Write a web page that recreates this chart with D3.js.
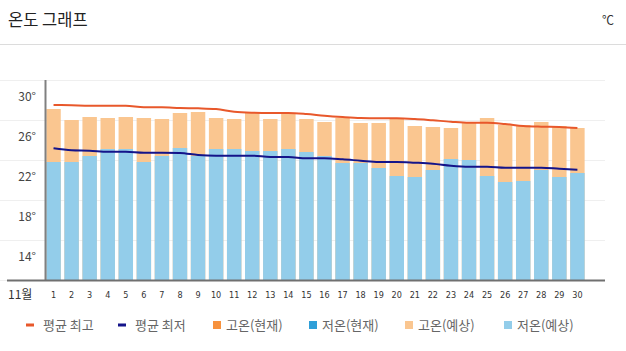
<!DOCTYPE html>
<html><head><meta charset="utf-8">
<script src="https://cdn.jsdelivr.net/npm/d3@7/dist/d3.min.js"></script>
<style>
body{margin:0;background:#fff;}
svg{display:block;font-family:"Noto Sans CJK KR","Noto Sans",sans-serif;}
</style></head>
<body><svg id="c" width="626" height="351"></svg>
<script>
const days = d3.range(1, 31);
const highForecast = [27.1,26.0,26.3,26.2,26.3,26.2,26.1,26.7,26.8,26.2,26.1,26.7,26.1,26.7,26.1,25.8,26.2,25.7,25.7,26.1,25.4,25.3,25.2,25.7,26.2,25.5,25.5,25.8,25.4,25.2];
const lowForecast = [21.8,21.8,22.4,23.1,23.1,21.8,22.4,23.2,22.4,23.1,23.1,22.9,22.9,23.1,22.8,22.4,21.7,21.7,21.2,20.4,20.3,21.0,22.1,22.0,20.4,19.8,19.9,21.0,20.3,20.7];
const avgHigh = [27.5,27.47,27.43,27.43,27.43,27.27,27.27,27.2,27.17,27.1,26.83,26.73,26.7,26.7,26.6,26.43,26.3,26.2,26.17,26.17,26.1,25.97,25.83,25.73,25.73,25.6,25.4,25.33,25.3,25.2];
const avgLow = [23.17,22.97,22.93,22.83,22.83,22.73,22.73,22.7,22.5,22.43,22.43,22.43,22.3,22.3,22.17,22.17,22.07,21.93,21.8,21.8,21.73,21.63,21.43,21.33,21.33,21.23,21.23,21.23,21.13,21.03];
const yTicks = [14,18,22,26,30];
const legendItems = [
  {label:"평균 최고", type:"line", color:"#e8582b"},
  {label:"평균 최저", type:"line", color:"#14148a"},
  {label:"고온(현재)", type:"rect", color:"#f7923e"},
  {label:"저온(현재)", type:"rect", color:"#2f9fd8"},
  {label:"고온(예상)", type:"rect", color:"#fac690"},
  {label:"저온(예상)", type:"rect", color:"#93cdea"}
];
const legendX = [26,118,213,309,405,504];

const svg = d3.select("#c");
const x = d3.scaleBand().domain(d3.range(1,32)).range([44.5,604.5]).paddingInner(0.2).paddingOuter(0.1);
const y = d3.scaleLinear().domain([10,30]).range([280,80]);

// header
svg.append("text").attr("x",8).attr("y",26).attr("font-size",16.5).attr("fill","#222").text("온도 그래프");
svg.append("text").attr("x",614).attr("y",25).attr("text-anchor","end").attr("font-size",12).attr("fill","#333").text("℃");
svg.append("line").attr("x1",0).attr("x2",626).attr("y1",44.5).attr("y2",44.5).attr("stroke","#dcdcdc");

// grid
svg.append("g").selectAll("line").data(yTicks.concat([10])).join("line")
  .attr("x1",0).attr("x2",605).attr("y1",d=>y(d)+0.5).attr("y2",d=>y(d)+0.5)
  .attr("stroke","#efefef").attr("stroke-width",1);

// y labels
svg.append("g").selectAll("text").data(yTicks).join("text")
  .attr("x",36).attr("y",d=>y(d)+21).attr("text-anchor","end").attr("font-size",12).attr("fill","#444")
  .text(d=>d+"°");

// bars
svg.append("g").selectAll("rect").data(days).join("rect")
  .attr("x",d=>x(d)).attr("width",x.bandwidth())
  .attr("y",(d,i)=>y(highForecast[i])).attr("height",(d,i)=>y(10)-y(highForecast[i]))
  .attr("fill","#fac690");
svg.append("g").selectAll("rect").data(days).join("rect")
  .attr("x",d=>x(d)).attr("width",x.bandwidth())
  .attr("y",(d,i)=>y(lowForecast[i])).attr("height",(d,i)=>y(10)-y(lowForecast[i]))
  .attr("fill","#93cdea");

// lines
const line = d3.line().x((v,i)=>x(days[i])+x.bandwidth()/2).y(v=>y(v)).curve(d3.curveMonotoneX);
svg.append("path").datum(avgHigh).attr("d",line).attr("fill","none").attr("stroke","#e8582b").attr("stroke-width",2);
svg.append("path").datum(avgLow).attr("d",line).attr("fill","none").attr("stroke","#14148a").attr("stroke-width",2);

// axes
svg.append("line").attr("x1",45.5).attr("x2",45.5).attr("y1",80).attr("y2",280).attr("stroke","#808080").attr("stroke-width",2);
svg.append("line").attr("x1",7).attr("x2",605).attr("y1",280.5).attr("y2",280.5).attr("stroke","#707070").attr("stroke-width",2);

// x labels
svg.append("text").attr("x",8).attr("y",299).attr("font-size",12).attr("fill","#333").text("11월");
svg.append("g").selectAll("text").data(days).join("text")
  .attr("x",d=>x(d)+x.bandwidth()/2).attr("y",298).attr("text-anchor","middle")
  .attr("font-size",9).attr("fill","#333").attr("font-family","'DejaVu Sans Condensed','Liberation Sans Narrow',sans-serif").text(d=>d);

// legend
const lg = svg.append("g").selectAll("g").data(legendItems).join("g")
  .attr("transform",(d,i)=>`translate(${legendX[i]},325)`);
lg.filter(d=>d.type==="line").append("rect").attr("x",0).attr("y",-1.5).attr("width",8).attr("height",3).attr("fill",d=>d.color);
lg.filter(d=>d.type==="rect").append("rect").attr("x",0).attr("y",-4).attr("width",8).attr("height",8).attr("fill",d=>d.color);
lg.append("text").attr("x",d=>d.type==="line"?17:13).attr("y",4.5).attr("font-size",13).attr("fill","#666").text(d=>d.label);
</script></body></html>
